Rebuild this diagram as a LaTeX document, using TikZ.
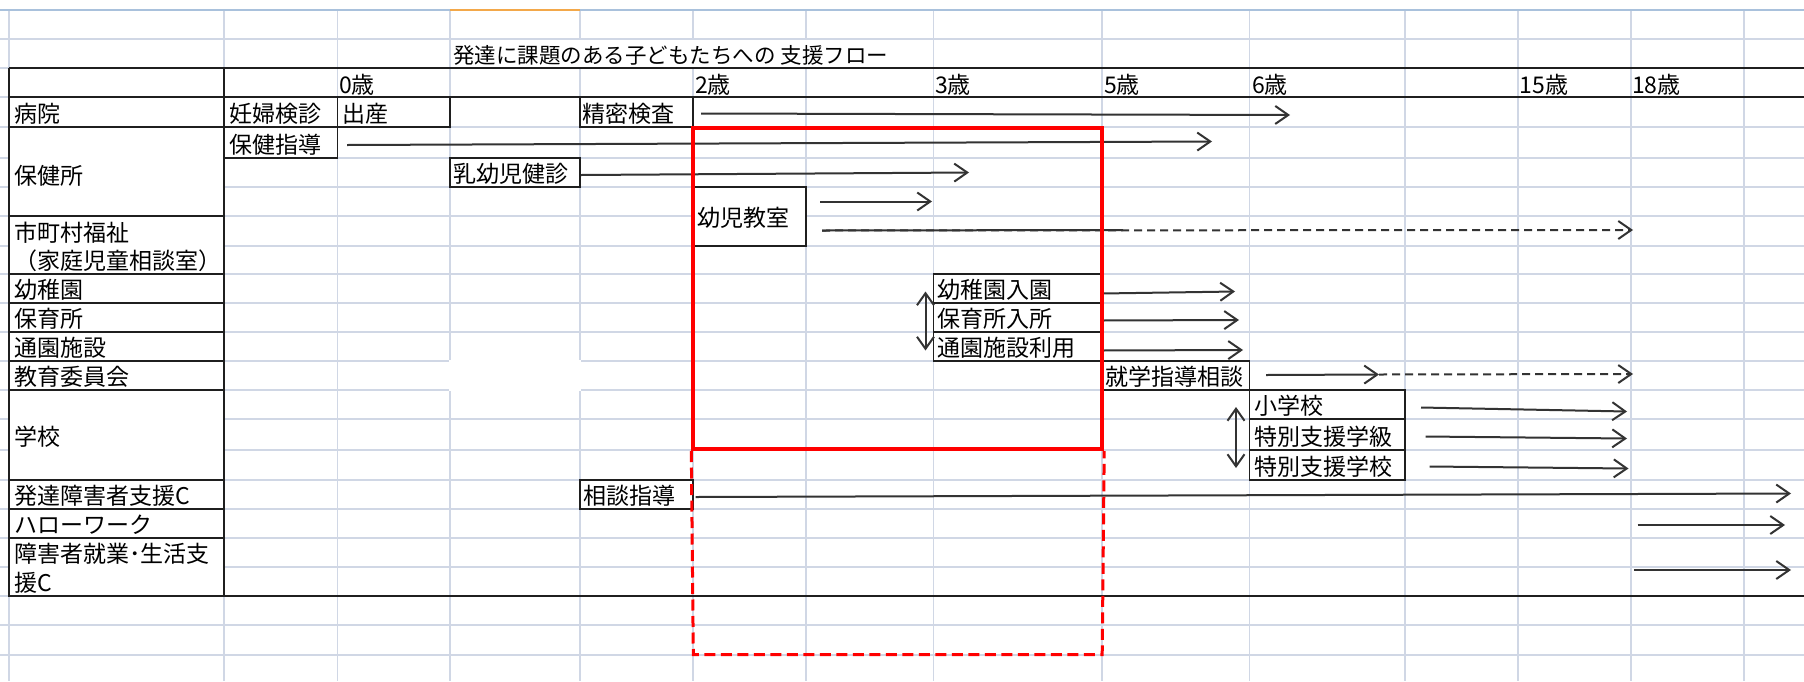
\documentclass[tikz,border=0pt]{standalone}
\usepackage{fontspec}
\setmainfont{Noto Sans CJK JP}
\usetikzlibrary{arrows.meta,fit}
\definecolor{gridc}{HTML}{D0D7E5}
\definecolor{hdrc}{HTML}{A9C1DC}
\definecolor{selc}{HTML}{F3A84A}
\definecolor{inkc}{HTML}{333333}
\newcommand{\mkbox}[5]{\node[cellbox, fit={(#2,#3) (#4,#5)}] (#1) {};}
\newcommand{\mktext}[4]{\node[celltext] (#1) at (#2,#3) {#4};}
\tikzset{
 gridline/.style={draw=gridc, line width=1.2pt},
 tableline/.style={draw=black!88, line width=1.6pt},
 cellbox/.style={draw=black!88, fill=white, line width=1.4pt, inner sep=0pt},
 celltext/.style={anchor=base west, inner sep=0pt, font=\fontsize{23}{27}\selectfont},
 arr/.style={draw=inkc, line width=2pt, -{Straight Barb[length=13pt,width=18pt]}},
 dblarr/.style={draw=inkc, line width=2pt, {Straight Barb[length=12pt,width=17pt]}-{Straight Barb[length=12pt,width=17pt]}},
 dasharr/.style={arr, dash pattern=on 8pt off 5pt},
 redsolid/.style={draw=red, line width=4pt, inner sep=0pt},
 reddash/.style={draw=red, line width=3pt, dash pattern=on 11pt off 5.5pt},
}
\begin{document}
\begin{tikzpicture}[x=1pt,y=-1pt]
\useasboundingbox (0,0) rectangle (1804,681);
\fill[white] (0,0) rectangle (1804,681);
% spreadsheet grid
\foreach \x in {9,224,337.5,450,580,693,806,933.5,1102,1249.5,1405,1518,1631,1744}
  \draw[gridline] (\x,10) -- (\x,681);
\foreach \y in {39,68,97,127,158,187,216,246,274,303,332,361,390,419,450,480,509,538,567,596,625,655}
  \draw[gridline] (0,\y) -- (1804,\y);
\draw[draw=hdrc, line width=2.6pt] (0,10) -- (1804,10);
\draw[draw=selc, line width=2.6pt] (450,10) -- (580,10);
% hidden grid parts
\fill[white] (451,40) rectangle (932.5,67);
\fill[white] (449,360) rectangle (581,391);
% title
\node[celltext, font=\fontsize{21.5}{26}\selectfont] (title) at (453,63.5) {発達に課題のある子どもたちへの 支援フロー};
% table frame
\draw[tableline] (9,68) -- (1804,68);
\draw[tableline] (9,97) -- (1804,97);
\draw[tableline] (9,596) -- (1804,596);
\draw[tableline] (9,68) -- (9,596);
\draw[tableline] (224,68) -- (224,596);
% label column
\mkbox{hosp}{9}{97}{224}{127}
\mkbox{hoken}{9}{127}{224}{216}
\mkbox{fukushi}{9}{216}{224}{274}
\mkbox{yochien}{9}{274}{224}{303}
\mkbox{hoiku}{9}{303}{224}{332}
\mkbox{tsuen}{9}{332}{224}{361}
\mkbox{kyoiku}{9}{361}{224}{390}
\mkbox{gakko}{9}{390}{224}{480}
\mkbox{hattatsu}{9}{480}{224}{509}
\mkbox{hello}{9}{509}{224}{538}
\mkbox{shuro}{9}{538}{224}{596}
\mktext{t-hosp}{14}{122.5}{病院}
\mktext{t-hoken}{14}{184}{保健所}
\mktext{t-fuk1}{14}{241.5}{市町村福祉}
\mktext{t-fuk2}{14}{269.5}{（家庭児童相談室）}
\mktext{t-yoc}{14}{298.5}{幼稚園}
\mktext{t-hoi}{14}{327.5}{保育所}
\mktext{t-tsu}{14}{356.5}{通園施設}
\mktext{t-kyo}{14}{385.5}{教育委員会}
\mktext{t-gak}{14}{445}{学校}
\mktext{t-hat}{14}{504.5}{発達障害者支援C}
\mktext{t-hel}{14}{533.5}{ハローワーク}
\mktext{t-shu1}{14}{562.5}{障害者就業･生活支}
\mktext{t-shu2}{14}{591.5}{援C}
% ages
\mktext{age0}{339}{93}{0歳}
\mktext{age2}{695}{93}{2歳}
\mktext{age3}{935}{93}{3歳}
\mktext{age5}{1104}{93}{5歳}
\mktext{age6}{1252}{93}{6歳}
\mktext{age15}{1519.5}{93}{15歳}
\mktext{age18}{1632}{93}{18歳}
% boxes
\mkbox{ninpu}{224}{97}{337.5}{127}
\mkbox{shussan}{337.5}{97}{450}{127}
\mkbox{seimitsu}{580}{97}{693}{127}
\mkbox{hokenshido}{224}{127}{337.5}{158}
\mkbox{nyuyoji}{450}{158}{580}{187}
\mkbox{yojikyo}{693}{187}{806}{246}
\mkbox{yonyu}{933.5}{274}{1102}{303}
\mkbox{hoinyu}{933.5}{303}{1102}{332}
\mkbox{tsuriyo}{933.5}{332}{1102}{361}
\mkbox{shugaku}{1102}{361}{1249.5}{390}
\mkbox{shogakko}{1249.5}{390}{1405}{419}
\mkbox{tokkyu}{1249.5}{419}{1405}{450}
\mkbox{tokko}{1249.5}{450}{1405}{480}
\mkbox{sodan}{580}{480}{693}{509}
\mktext{t-ninpu}{229}{122.5}{妊婦検診}
\mktext{t-shussan}{342.5}{122.5}{出産}
\mktext{t-seimitsu}{582.5}{122.5}{精密検査}
\mktext{t-hokenshido}{229}{153.5}{保健指導}
\mktext{t-nyuyoji}{453.5}{182.5}{乳幼児健診}
\mktext{t-yojikyo}{697}{226}{幼児教室}
\mktext{t-yonyu}{937}{298.5}{幼稚園入園}
\mktext{t-hoinyu}{937}{327.5}{保育所入所}
\mktext{t-tsuriyo}{937}{356.5}{通園施設利用}
\mktext{t-shugaku}{1105}{385.5}{就学指導相談}
\mktext{t-shogakko}{1254}{414.5}{小学校}
\mktext{t-tokkyu}{1254}{445}{特別支援学級}
\mktext{t-tokko}{1254}{475.5}{特別支援学校}
\mktext{t-sodan}{583}{504.5}{相談指導}
% arrow end points
\coordinate (a1s) at (701,113.5);   \coordinate (a1e) at (1290,115);
\coordinate (a2s) at (347,145);     \coordinate (a2e) at (1212,141.5);
\coordinate (a3s) at (581,175);     \coordinate (a3e) at (969,172.5);
\coordinate (a4s) at (820,201.5);   \coordinate (a4e) at (932,201.5);
\coordinate (a5s) at (822,230.5);   \coordinate (a5m) at (1123,230);  \coordinate (a5e) at (1633,230);
\coordinate (a6s) at (1102,293.5);  \coordinate (a6e) at (1235,291.5);
\coordinate (a7s) at (1102,320.5);  \coordinate (a7e) at (1239,320);
\coordinate (a8s) at (1102,350.5);  \coordinate (a8e) at (1243,350);
\coordinate (a9s) at (925.5,291.5); \coordinate (a9e) at (925.5,350.5);
\coordinate (a10s) at (1266,375);   \coordinate (a10m) at (1379,374.5); \coordinate (a10e) at (1633,374);
\coordinate (a11s) at (1236,407);   \coordinate (a11e) at (1236,468);
\coordinate (a12s) at (1421,407.5); \coordinate (a12e) at (1627,411.5);
\coordinate (a13s) at (1425.5,436.5); \coordinate (a13e) at (1627,438.5);
\coordinate (a14s) at (1429.5,466.5); \coordinate (a14e) at (1628.5,468.5);
\coordinate (a15s) at (695.5,497);  \coordinate (a15e) at (1791,493.5);
\coordinate (a16s) at (1637.5,525); \coordinate (a16e) at (1785,525);
\coordinate (a17s) at (1634,570);   \coordinate (a17e) at (1791,570);
% arrows
\draw[arr] (a1s) -- (a1e);
\draw[arr] (a2s) -- (a2e);
\draw[arr] (a3s) -- (a3e);
\draw[arr] (a4s) -- (a4e);
\draw[dasharr] (a5s) -- (a5e);
\draw[draw=inkc, line width=2pt] (a5s) -- (a5m);
\draw[arr] (a6s) -- (a6e);
\draw[arr] (a7s) -- (a7e);
\draw[arr] (a8s) -- (a8e);
\draw[dblarr] (a9s) -- (a9e);
\draw[arr] (a10s) -- (a10m);
\draw[dasharr] (a10m) -- (a10e);
\draw[dblarr] (a11s) -- (a11e);
\draw[arr] (a12s) -- (a12e);
\draw[arr] (a13s) -- (a13e);
\draw[arr] (a14s) -- (a14e);
\draw[arr] (a15s) -- (a15e);
\draw[arr] (a16s) -- (a16e);
\draw[arr] (a17s) -- (a17e);
% red focus frame
\node[redsolid, fit={(693.3,127.7) (1102.2,449)}] (focus) {};
\coordinate (extsw) at (693.3,654.5);
\coordinate (extse) at (1102.2,654.5);
\draw[reddash] (focus.south west) -- (extsw) -- (extse) -- (focus.south east);
\end{tikzpicture}
\end{document}
